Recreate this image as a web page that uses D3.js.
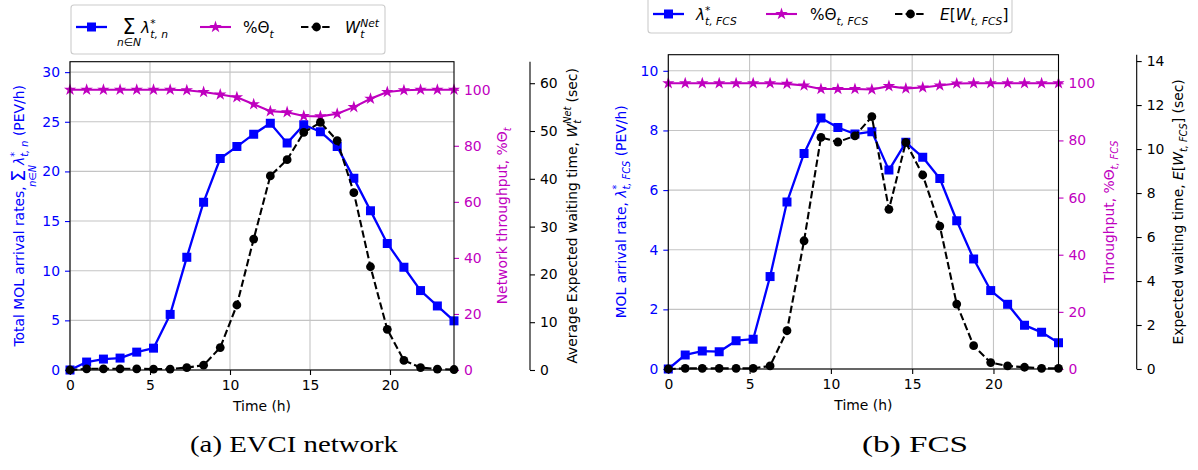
<!DOCTYPE html>
<html><head><meta charset="utf-8">
<script src="https://cdn.jsdelivr.net/npm/d3@7"></script>
<style>body{margin:0;background:#fff}svg{display:block}text{white-space:pre}</style>
</head><body>
<svg id="chart" width="1198" height="470"></svg>
<script>
// ---------------- DATA ----------------
const timeHours = [0, 1.04, 2.09, 3.13, 4.17, 5.22, 6.26, 7.30, 8.35, 9.39, 10.43, 11.48,
                   12.52, 13.57, 14.61, 15.65, 16.70, 17.74, 18.78, 19.83, 20.87, 21.91, 22.96, 24.0];

// (a) EVCI network
const netArrival = [0.0, 0.8, 1.1, 1.2, 1.8, 2.2, 5.6, 11.35, 16.9, 21.3, 22.5, 23.75,
                    24.85, 22.85, 24.7, 24.0, 22.5, 19.3, 16.05, 12.75, 10.35, 8.0, 6.45, 4.95];
const netThroughput = [100, 100, 100, 100, 100, 100, 100, 99.8, 99.2, 98.3, 97.3, 94.8,
                       92.3, 92.0, 90.6, 90.5, 91.4, 93.8, 96.8, 99.2, 99.8, 100, 100, 100];
const netWait = [0, 0.25, 0.25, 0.25, 0.25, 0.2, 0.2, 0.5, 1.0, 4.7, 13.6, 27.4,
                 40.6, 44.0, 49.7, 51.8, 48.0, 37.1, 21.6, 8.5, 2.0, 0.5, 0.2, 0.1];

// (b) FCS
const fcsArrival = [0, 0.47, 0.6, 0.58, 0.95, 1.0, 3.1, 5.6, 7.23, 8.42, 8.1, 7.88,
                    7.96, 6.67, 7.6, 7.1, 6.39, 4.97, 3.69, 2.63, 2.17, 1.47, 1.23, 0.88];
const fcsThroughput = [100, 100, 100, 100, 100, 100, 100, 99.8, 99.2, 98.0, 98.0, 98.0,
                       97.8, 99.0, 98.2, 98.5, 99.2, 99.9, 100, 100, 100, 100, 100, 100];
const fcsWait = [0, 0.03, 0.03, 0.03, 0.03, 0.03, 0.14, 1.74, 5.83, 10.53, 10.32, 10.6,
                 11.47, 7.26, 10.3, 8.82, 6.5, 2.95, 1.06, 0.29, 0.14, 0.08, 0.03, 0.03];

// tick labels
const xTicks = [0, 5, 10, 15, 20];
const netArrivalTicks = [0, 5, 10, 15, 20, 25, 30];
const throughputTicks = [0, 20, 40, 60, 80, 100];
const netWaitTicks = [0, 10, 20, 30, 40, 50, 60];
const fcsArrivalTicks = [0, 2, 4, 6, 8, 10];
const fcsWaitTicks = [0, 2, 4, 6, 8, 10, 12, 14];

const captions = ["(a) EVCI network", "(b) FCS"];

// ---------------- STYLE ----------------
const FONT = "DejaVu Sans";
const BLUE = "#0000ff", MAG = "#bf00bf", BLACK = "#000000", GRID = "#c4c4c4";
const TFS = 13.9;   // tick / label font size
const LFS = 15.3;   // legend font size

const svg = d3.select("#chart");

// math-like text helper: parts laid out left to right, with sub/sup stacking
function mathText(parent, x, y, parts, o) {
  const g = parent.append("g");
  let cur = 0, last = null, lastText = null, minX = Infinity, maxX = -Infinity;
  for (const p of parts) {
    const fs = o.fs * (p.s || 1);
    let el, w, px;
    if (p.under && lastText) {
      // limits placed under the previous symbol, inside the same text element
      el = lastText.append("tspan")
        .attr("font-size", fs).attr("font-style", p.i ? "italic" : "normal").text(p.t);
      w = el.node().getComputedTextLength();
      px = last.x + last.w / 2 - w / 2;
      el.attr("x", px).attr("y", (p.dy || 0) * o.fs);
      cur = Math.max(cur, px + w);
    } else {
      el = g.append("text")
        .attr("font-family", FONT).attr("font-size", fs)
        .attr("font-style", p.i ? "italic" : "normal")
        .attr("fill", o.fill).text(p.t);
      w = el.node().getComputedTextLength();
      px = (p.stack && last) ? last.x : cur;
      el.attr("x", px).attr("y", (p.dy || 0) * o.fs);
      if (p.stack) cur = Math.max(cur, px + w);
      else { last = { x: px, w: w }; lastText = el; cur = px + w; }
    }
    minX = Math.min(minX, px); maxX = Math.max(maxX, px + w);
  }
  let shift = 0;
  if (o.anchor === "middle") shift = -(minX + maxX) / 2;
  else if (o.anchor === "start") shift = -minX;
  g.attr("transform", `translate(${x + shift},${y})`);
  return g;
}

function rotatedLabel(x, cy, parts, fill) {
  const g = svg.append("g").attr("transform", `translate(${x},${cy}) rotate(-90)`);
  mathText(g, 0, 0, parts, { fs: TFS, fill: fill, anchor: "middle" });
}

const starSym = d3.symbol().type(d3.symbolStar).size(48);
const squareSym = d3.symbol().type(d3.symbolSquare).size(81);

function drawPanel(cfg) {
  const { left, right, top, bottom } = cfg;
  const x = d3.scaleLinear().domain([0, 24]).range([left, right]);
  const yB = d3.scaleLinear().domain([0, cfg.blueMax]).range([bottom, top]);
  const yM = d3.scaleLinear().domain([0, 110]).range([bottom, top]);
  const yK = d3.scaleLinear().domain([0, cfg.blackMax]).range([bottom, top]);

  const g = svg.append("g");

  // grid
  g.append("g").selectAll("line").data(cfg.xTicks).join("line")
    .attr("x1", d => x(d)).attr("x2", d => x(d)).attr("y1", top).attr("y2", bottom)
    .attr("stroke", GRID).attr("stroke-width", 1.1);
  g.append("g").selectAll("line").data(cfg.blueTicks).join("line")
    .attr("x1", left).attr("x2", right).attr("y1", d => yB(d)).attr("y2", d => yB(d))
    .attr("stroke", GRID).attr("stroke-width", 1.1);

  // axes
  const axX = g.append("g").attr("transform", `translate(0,${bottom})`)
    .call(d3.axisBottom(x).tickValues(cfg.xTicks).tickSize(5).tickPadding(5).tickFormat(d3.format("d")));
  const axB = g.append("g").attr("transform", `translate(${left},0)`)
    .call(d3.axisLeft(yB).tickValues(cfg.blueTicks).tickSize(5).tickPadding(5).tickFormat(d3.format("d")));
  const axM = g.append("g").attr("transform", `translate(${right},0)`)
    .call(d3.axisRight(yM).tickValues(cfg.magTicks).tickSize(5).tickPadding(5).tickFormat(d3.format("d")));
  const axK = g.append("g").attr("transform", `translate(${cfg.blackAxisX},0)`)
    .call(d3.axisRight(yK).tickValues(cfg.blackTicks).tickSize(5).tickPadding(5).tickFormat(d3.format("d")));
  [[axX, BLACK], [axB, BLUE], [axM, MAG], [axK, BLACK]].forEach(([a, c]) => {
    a.select(".domain").remove();
    a.selectAll(".tick line").attr("stroke", c).attr("stroke-width", 1.1);
    a.selectAll(".tick text").attr("fill", c).attr("font-family", FONT).attr("font-size", TFS);
  });
  // black offset spine
  g.append("line").attr("x1", cfg.blackAxisX).attr("x2", cfg.blackAxisX)
    .attr("y1", top).attr("y2", bottom).attr("stroke", BLACK).attr("stroke-width", 1.1);

  // series: blue (host), magenta, black on top
  const pts = (vals) => vals.map((v, i) => [timeHours[i], v]);
  const lineB = d3.line().x(d => x(d[0])).y(d => yB(d[1]));
  const lineM = d3.line().x(d => x(d[0])).y(d => yM(d[1]));
  const lineK = d3.line().x(d => x(d[0])).y(d => yK(d[1]));

  const clip = "clip" + cfg.id;
  svg.append("clipPath").attr("id", clip).append("rect")
    .attr("x", left - 6).attr("y", top).attr("width", right - left + 12).attr("height", bottom - top + 6);
  const pg = g.append("g").attr("clip-path", `url(#${clip})`);

  pg.append("path").attr("d", lineB(pts(cfg.blue))).attr("fill", "none")
    .attr("stroke", BLUE).attr("stroke-width", 2.3).attr("stroke-linejoin", "round");
  pg.append("g").selectAll("path").data(pts(cfg.blue)).join("path")
    .attr("d", squareSym).attr("transform", d => `translate(${x(d[0])},${yB(d[1])})`).attr("fill", BLUE);

  pg.append("path").attr("d", lineM(pts(cfg.mag))).attr("fill", "none")
    .attr("stroke", MAG).attr("stroke-width", 2.1).attr("stroke-linejoin", "round");
  pg.append("g").selectAll("path").data(pts(cfg.mag)).join("path")
    .attr("d", starSym).attr("transform", d => `translate(${x(d[0])},${yM(d[1])})`).attr("fill", MAG);

  pg.append("path").attr("d", lineK(pts(cfg.black))).attr("fill", "none")
    .attr("stroke", BLACK).attr("stroke-width", 2.1).attr("stroke-dasharray", "7.4,3.2");
  pg.append("g").selectAll("circle").data(pts(cfg.black)).join("circle")
    .attr("cx", d => x(d[0])).attr("cy", d => yK(d[1])).attr("r", 4.4).attr("fill", BLACK);

  // frame
  g.append("rect").attr("x", left).attr("y", top).attr("width", right - left).attr("height", bottom - top)
    .attr("fill", "none").attr("stroke", BLACK).attr("stroke-width", 1.1);

  // x label
  g.append("text").attr("x", (left + right) / 2).attr("y", bottom + 40.5).attr("text-anchor", "middle")
    .attr("font-family", FONT).attr("font-size", TFS).attr("fill", BLACK).text("Time (h)");

  // y labels
  const cy = (top + bottom) / 2;
  rotatedLabel(cfg.labelX[0], cy, cfg.blueLabel, BLUE);
  rotatedLabel(cfg.labelX[1], cy, cfg.magLabel, MAG);
  rotatedLabel(cfg.labelX[2], cy, cfg.blackLabel, BLACK);

  // legend
  const L = cfg.legend;
  svg.append("rect").attr("x", L.x).attr("y", L.y).attr("width", L.w).attr("height", L.h)
    .attr("rx", 3).attr("fill", "#fff").attr("stroke", "#cccccc").attr("stroke-width", 1.1);
  const hy = L.handleY;
  // blue
  svg.append("line").attr("x1", L.hx[0]).attr("x2", L.hx[0] + 31).attr("y1", hy).attr("y2", hy)
    .attr("stroke", BLUE).attr("stroke-width", 2.3);
  svg.append("path").attr("d", squareSym).attr("transform", `translate(${L.hx[0] + 15.5},${hy})`).attr("fill", BLUE);
  // magenta
  svg.append("line").attr("x1", L.hx[1]).attr("x2", L.hx[1] + 31).attr("y1", hy).attr("y2", hy)
    .attr("stroke", MAG).attr("stroke-width", 2.1);
  svg.append("path").attr("d", starSym).attr("transform", `translate(${L.hx[1] + 15.5},${hy})`).attr("fill", MAG);
  // black
  svg.append("line").attr("x1", L.hx[2]).attr("x2", L.hx[2] + 31).attr("y1", hy).attr("y2", hy)
    .attr("stroke", BLACK).attr("stroke-width", 2.1).attr("stroke-dasharray", "7.4,3.2");
  svg.append("circle").attr("cx", L.hx[2] + 15.5).attr("cy", hy).attr("r", 4.4).attr("fill", BLACK);
  L.texts.forEach((parts, i) => {
    mathText(svg, L.tx[i], L.textY, parts, { fs: LFS, fill: BLACK, anchor: "start" });
  });

  // caption
  svg.append("text").attr("x", cfg.caption.x).attr("y", cfg.caption.y).attr("text-anchor", "middle")
    .attr("font-family", "Liberation Serif").attr("font-size", 24).attr("fill", BLACK)
    .attr("textLength", cfg.caption.len).attr("lengthAdjust", "spacingAndGlyphs")
    .text(cfg.caption.text);
}

const SUB = 0.3, SUP = -0.42, SS = 0.7;
const SIGMA = [
  { t: "\u03a3", s: 1.35, dy: 0.08 },
  { t: "n\u2208N", s: SS, i: true, under: true, dy: 0.85 }
];

drawPanel({
  id: "a", left: 70, right: 454, top: 61.7, bottom: 370,
  blueMax: 31.05, blackMax: 64.5, blackAxisX: 530,
  xTicks: xTicks, blueTicks: netArrivalTicks, magTicks: throughputTicks, blackTicks: netWaitTicks,
  blue: netArrival, mag: netThroughput, black: netWait,
  labelX: [24, 507, 577],
  blueLabel: [
    { t: "Total MOL arrival rates, " },
    ...SIGMA,
    { t: "\u03bb", i: true },
    { t: "*", s: SS, i: true, dy: SUP },
    { t: "t, n", s: SS, i: true, stack: true, dy: SUB },
    { t: " (PEV/h)" }
  ],
  magLabel: [
    { t: "Network throughput, %\u0398" },
    { t: "t", s: SS, i: true, dy: SUB }
  ],
  blackLabel: [
    { t: "Average Expected waiting time, " },
    { t: "W", i: true },
    { t: "Net", s: SS, i: true, dy: SUP },
    { t: "t", s: SS, i: true, stack: true, dy: SUB },
    { t: " (sec)" }
  ],
  legend: {
    x: 71, y: 5, w: 314, h: 49, handleY: 27, textY: 33,
    hx: [76, 200, 301], tx: [117, 243, 345],
    texts: [
      [ ...SIGMA,
        { t: "\u03bb", i: true },
        { t: "*", s: SS, i: true, dy: SUP },
        { t: "t, n", s: SS, i: true, stack: true, dy: SUB } ],
      [ { t: "%\u0398" }, { t: "t", s: SS, i: true, dy: SUB } ],
      [ { t: "W", i: true }, { t: "Net", s: SS, i: true, dy: SUP },
        { t: "t", s: SS, i: true, stack: true, dy: SUB } ]
    ]
  },
  caption: { text: captions[0], x: 294, y: 452, len: 208 }
});

drawPanel({
  id: "b", left: 668.3, right: 1058.5, top: 54.7, bottom: 369,
  blueMax: 10.54, blackMax: 14.29, blackAxisX: 1136.7,
  xTicks: xTicks, blueTicks: fcsArrivalTicks, magTicks: throughputTicks, blackTicks: fcsWaitTicks,
  blue: fcsArrival, mag: fcsThroughput, black: fcsWait,
  labelX: [626, 1114, 1183],
  blueLabel: [
    { t: "MOL arrival rate, " },
    { t: "\u03bb", i: true },
    { t: "*", s: SS, i: true, dy: SUP },
    { t: "t, FCS", s: SS, i: true, stack: true, dy: SUB },
    { t: " (PEV/h)" }
  ],
  magLabel: [
    { t: "Throughput, %\u0398" },
    { t: "t, FCS", s: SS, i: true, dy: SUB }
  ],
  blackLabel: [
    { t: "Expected waiting time, " },
    { t: "E", i: true }, { t: "[" }, { t: "W", i: true },
    { t: "t, FCS", s: SS, i: true, dy: SUB }, { t: "]" },
    { t: " (sec)" }
  ],
  legend: {
    x: 648, y: -5, w: 364, h: 38, handleY: 14, textY: 20,
    hx: [653, 766, 895], tx: [696, 810, 940],
    texts: [
      [ { t: "\u03bb", i: true },
        { t: "*", s: SS, i: true, dy: SUP },
        { t: "t, FCS", s: SS, i: true, stack: true, dy: SUB } ],
      [ { t: "%\u0398" }, { t: "t, FCS", s: SS, i: true, dy: SUB } ],
      [ { t: "E", i: true }, { t: "[" }, { t: "W", i: true },
        { t: "t, FCS", s: SS, i: true, dy: SUB }, { t: "]" } ]
    ]
  },
  caption: { text: captions[1], x: 915, y: 452, len: 106 }
});
</script>
</body></html>
